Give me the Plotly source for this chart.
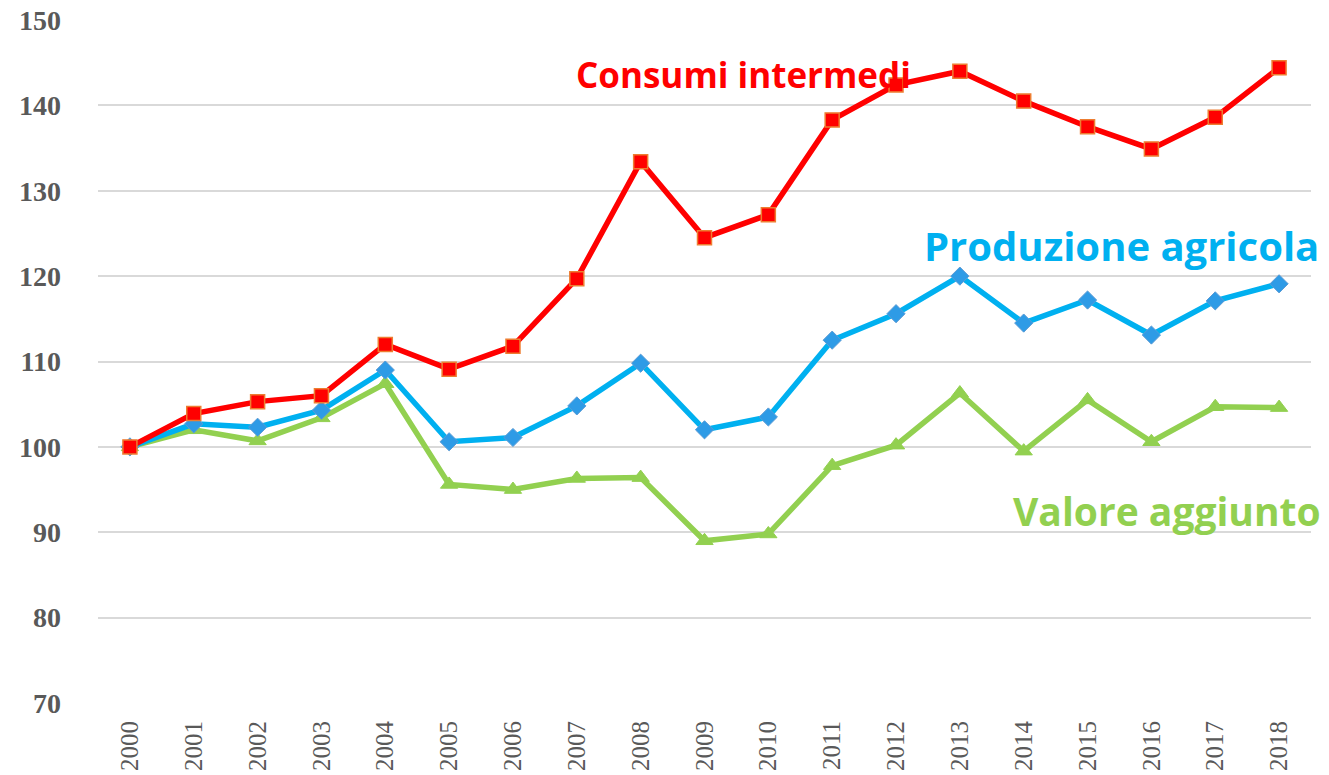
import plotly.graph_objects as go

years = [str(y) for y in range(2000, 2019)]
consumi = [100, 103.9, 105.3, 106.0, 112.0, 109.1, 111.8, 119.7, 133.4, 124.5, 127.2,
           138.3, 142.4, 144.0, 140.5, 137.5, 134.9, 138.6, 144.4]
produzione = [100, 102.7, 102.3, 104.3, 109.0, 100.6, 101.1, 104.8, 109.8, 102.0, 103.5,
              112.5, 115.6, 120.0, 114.5, 117.2, 113.1, 117.1, 119.1]
valore = [100, 102.0, 100.7, 103.4, 107.4, 95.6, 95.0, 96.3, 96.4, 89.0, 89.8,
          97.8, 100.2, 106.3, 99.5, 105.5, 100.6, 104.7, 104.6]
y_ticks = [70, 80, 90, 100, 110, 120, 130, 140, 150]

fig = go.Figure()
fig.add_trace(go.Scatter(
    x=years, y=valore, mode="lines+markers", name="Valore aggiunto",
    line=dict(color="#92D050", width=5.5),
    marker=dict(symbol="triangle-up", size=15, color="#92D050",
                line=dict(color="#92D050", width=1))))
fig.add_trace(go.Scatter(
    x=years, y=produzione, mode="lines+markers", name="Produzione agricola",
    line=dict(color="#00B0F0", width=5.5),
    marker=dict(symbol="diamond", size=14, color="#2E9BE6",
                line=dict(color="#5B9BD5", width=1))))
fig.add_trace(go.Scatter(
    x=years, y=consumi, mode="lines+markers", name="Consumi intermedi",
    line=dict(color="#FF0000", width=5.5),
    marker=dict(symbol="square", size=14, color="#FF0000",
                line=dict(color="#ED7D31", width=1.5))))

ann_font = "Open Sans"
fig.add_annotation(x=0.532, xref="paper", y=143.6, yref="y", text="<b>Consumi intermedi</b>",
                   showarrow=False, xanchor="center", yanchor="middle",
                   font=dict(family=ann_font, size=35, color="#FF0000"))
fig.add_annotation(x=0.844, xref="paper", y=123.6, yref="y", text="<b>Produzione agricola</b>",
                   showarrow=False, xanchor="center", yanchor="middle",
                   font=dict(family=ann_font, size=40, color="#00B0F0"))
fig.add_annotation(x=0.881, xref="paper", y=92.5, yref="y", text="<b>Valore aggiunto</b>",
                   showarrow=False, xanchor="center", yanchor="middle",
                   font=dict(family=ann_font, size=39, color="#92D050"))

fig.update_layout(
    width=1329, height=775,
    margin=dict(l=98, r=18, t=20, b=72),
    plot_bgcolor="white", paper_bgcolor="white",
    showlegend=False,
    xaxis=dict(type="category", range=[-0.5, 18.5], tickangle=-90, automargin=False,
               showgrid=False, showline=False, zeroline=False,
               tickfont=dict(family="Liberation Serif", size=25, color="#595959"),
               ticks="", ticklabelstandoff=12),
    yaxis=dict(range=[70, 150], tickvals=y_ticks, showgrid=True, automargin=False,
               gridcolor="#D9D9D9", gridwidth=1.5, zeroline=False, showline=False,
               tickfont=dict(family="Liberation Serif", size=28, color="#595959",
                             weight="bold"),
               ticks="", ticklabelstandoff=36),
)

fig.write_html("out.html", config={"displayModeBar": False},
               post_script="document.body.style.margin='0px';")
